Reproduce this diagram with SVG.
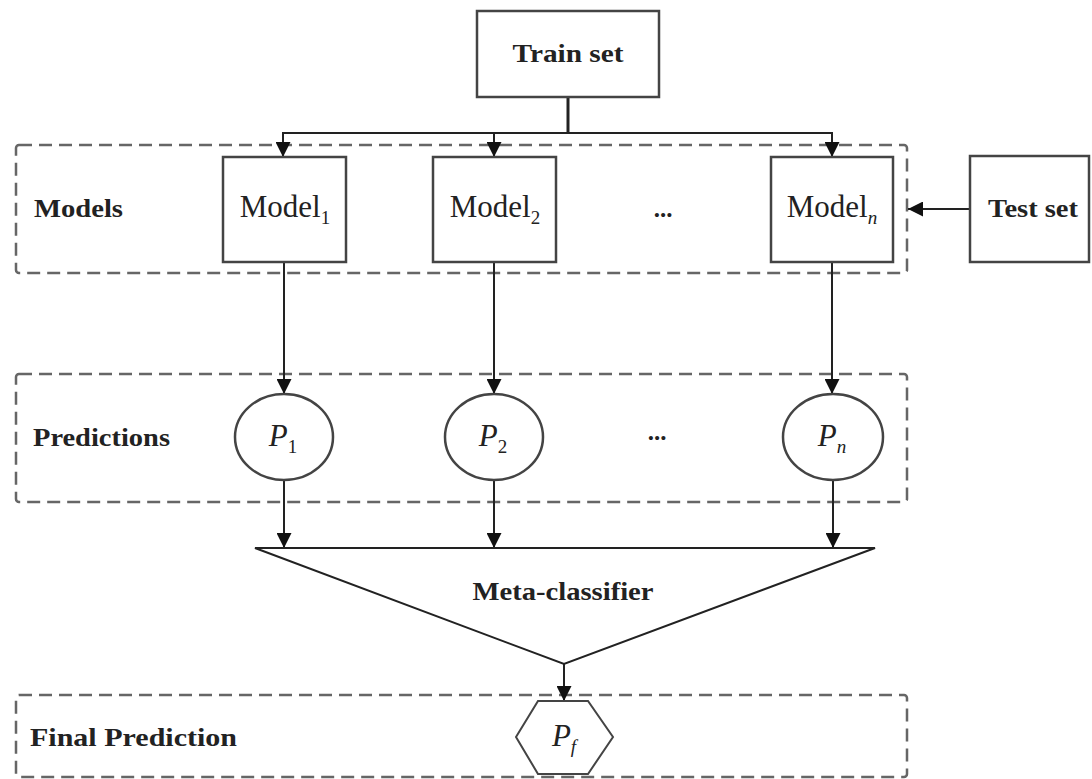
<svg xmlns="http://www.w3.org/2000/svg" width="1092" height="779" viewBox="0 0 1092 779">
<style>
.box{fill:#fff;stroke:#444;stroke-width:2.5}
.grp{fill:none;stroke:#666;stroke-width:2.5;stroke-dasharray:13 7}
.ln{fill:none;stroke:#222;stroke-width:2}
.lbl{font-family:"Liberation Serif","Times New Roman",serif;font-weight:bold;font-size:25px;fill:#222}
.mdl{font-family:"Liberation Serif","Times New Roman",serif;font-size:31px;fill:#222}
.sub{font-size:19px}
.it{font-style:italic}
</style>
<defs>
<marker id="ah" viewBox="0 0 14 14" refX="14" refY="7" markerWidth="15" markerHeight="15" markerUnits="userSpaceOnUse" orient="auto">
<path d="M0,0 L14,7 L0,14 z" fill="#111"/>
</marker>
</defs>
<g id="groups">
<rect id="models-group" class="grp" x="16" y="145" width="891" height="128" rx="3"/>
<rect id="predictions-group" class="grp" x="16" y="374" width="891" height="128" rx="3"/>
<rect id="final-group" class="grp" x="16" y="695" width="891" height="82" rx="3"/>
<text class="lbl" x="34" y="217" textLength="89" lengthAdjust="spacingAndGlyphs">Models</text>
<text class="lbl" x="33" y="446" textLength="137" lengthAdjust="spacingAndGlyphs">Predictions</text>
<text class="lbl" x="30" y="746" textLength="207" lengthAdjust="spacingAndGlyphs">Final Prediction</text>
</g>
<g id="connectors">
<path class="ln" d="M568,97 V133" style="stroke-width:3"/>
<path class="ln" d="M283,157 V133 H832 V157"/>
<path class="ln" d="M283,133 V157" marker-end="url(#ah)"/>
<path class="ln" d="M494,133 V157" marker-end="url(#ah)"/>
<path class="ln" d="M832,133 V157" marker-end="url(#ah)"/>
<path class="ln" d="M970,209 H908" marker-end="url(#ah)"/>
<path class="ln" d="M284,262 V394" marker-end="url(#ah)"/>
<path class="ln" d="M494,262 V394" marker-end="url(#ah)"/>
<path class="ln" d="M832,262 V394" marker-end="url(#ah)"/>
<path class="ln" d="M284,480 V548" marker-end="url(#ah)"/>
<path class="ln" d="M494,480 V548" marker-end="url(#ah)"/>
<path class="ln" d="M833,480 V548" marker-end="url(#ah)"/>
<path class="ln" d="M564,664 V701" marker-end="url(#ah)"/>
</g>
<g id="train-set">
<rect class="box" x="477" y="11" width="182" height="86"/>
<text class="lbl" x="568" y="62" text-anchor="middle" font-size="27" textLength="111" lengthAdjust="spacingAndGlyphs">Train set</text>
</g>
<g id="test-set">
<rect class="box" x="970" y="156" width="119" height="106"/>
<text class="lbl" x="988" y="217" textLength="90" lengthAdjust="spacingAndGlyphs">Test set</text>
</g>
<g id="model-1">
<rect class="box" x="223" y="157" width="123" height="105"/>
<text class="mdl" x="285" y="217" text-anchor="middle">Model<tspan class="sub" dy="7">1</tspan></text>
</g>
<g id="model-2">
<rect class="box" x="433" y="157" width="123" height="105"/>
<text class="mdl" x="495" y="217" text-anchor="middle">Model<tspan class="sub" dy="7">2</tspan></text>
</g>
<g id="model-dots">
<text class="lbl" x="663" y="217" text-anchor="middle" font-size="22">...</text>
</g>
<g id="model-n">
<rect class="box" x="771" y="157" width="122" height="105"/>
<text class="mdl" x="832" y="217" text-anchor="middle">Model<tspan class="sub it" dy="7">n</tspan></text>
</g>
<g id="p-1">
<ellipse class="box" cx="284" cy="437" rx="49" ry="43"/>
<text class="mdl it" x="283" y="446" text-anchor="middle" font-size="30">P<tspan class="sub" style="font-style:normal" dy="7">1</tspan></text>
</g>
<g id="p-2">
<ellipse class="box" cx="494" cy="437" rx="49" ry="43"/>
<text class="mdl it" x="493" y="446" text-anchor="middle" font-size="30">P<tspan class="sub" style="font-style:normal" dy="7">2</tspan></text>
</g>
<g id="p-dots">
<text class="lbl" x="657" y="440" text-anchor="middle" font-size="22">...</text>
</g>
<g id="p-n">
<ellipse class="box" cx="833" cy="437" rx="50" ry="43"/>
<text class="mdl it" x="832" y="446" text-anchor="middle" font-size="30">P<tspan class="sub" dy="7">n</tspan></text>
</g>
<g id="meta-classifier">
<path class="ln" d="M255,548 H875 L564,664 Z"/>
<text class="lbl" x="563" y="600" text-anchor="middle" textLength="181" lengthAdjust="spacingAndGlyphs">Meta-classifier</text>
</g>
<g id="p-f">
<path class="box" d="M538,701 H588 L613,737 L588,774 H538 L516,737 Z" style="stroke-width:2"/>
<text class="mdl it" x="564" y="746" text-anchor="middle" font-size="30">P<tspan class="sub" dy="7">f</tspan></text>
</g>
</svg>
